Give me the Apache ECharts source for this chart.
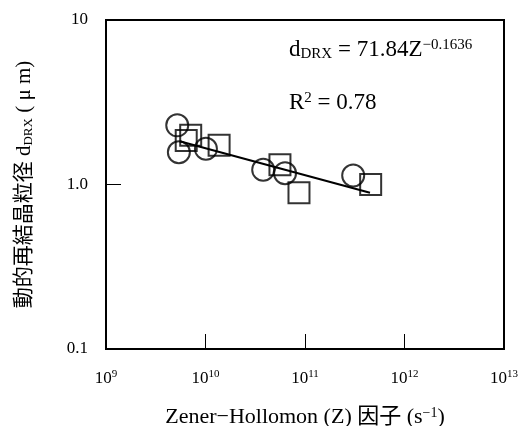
<!DOCTYPE html>
<html><head><meta charset="utf-8">
<script src="https://cdn.jsdelivr.net/npm/echarts@6/dist/echarts.min.js"></script>
<style>html,body{margin:0;padding:0;background:#fff}#c{width:529px;height:426px}</style>
</head><body><div id="c"></div>
<script>
// Data
const circleZ = [5.2e9, 5.4e9, 1.01e10, 3.8e10, 6.3e10, 3.05e11];
const circleD = [2.29, 1.57, 1.65, 1.23, 1.17, 1.135];
const squareZ = [6.4e9, 7.1e9, 1.37e10, 5.6e10, 8.7e10, 4.57e11];
const squareD = [1.85, 1.99, 1.73, 1.32, 0.89, 1.0];
const fitZ = [5.5e9, 4.5e11];
const fitD = [1.83, 0.89];
const yTickLabels = {0.1: '0.1', 1: '1.0', 10: '10'};

const serif = '"Liberation Serif","DejaVu Serif","Noto Sans CJK JP",serif';
const pairs = (xs, ys) => xs.map((x, i) => [x, ys[i]]);

const chart = echarts.init(document.getElementById('c'), null, {renderer: 'canvas'});
chart.setOption({
  animation: false,
  backgroundColor: '#fff',
  grid: {left: 106, right: 25, top: 20, bottom: 77, containLabel: false, outerBoundsMode: 'none',
         show: true, borderColor: '#000', borderWidth: 2, backgroundColor: 'transparent'},
  title: [
    {left: 284, top: 33, text: 'd{sub|DRX} = 71.84Z{sup|−0.1636}',
     textStyle: {fontFamily: serif, fontSize: 23, fontWeight: 'normal', color: '#000',
       rich: {sub: {fontFamily: serif, fontSize: 15, verticalAlign: 'bottom', padding: [9, 0, 0, 0]},
              sup: {fontFamily: serif, fontSize: 15, verticalAlign: 'top', padding: [0, 0, 9, 0]}}}},
    {left: 284, top: 86, text: 'R{sup|2} = 0.78',
     textStyle: {fontFamily: serif, fontSize: 23, fontWeight: 'normal', color: '#000',
       rich: {sup: {fontFamily: serif, fontSize: 15, verticalAlign: 'top', padding: [0, 0, 9, 0]}}}}
  ],
  xAxis: {
    type: 'log', logBase: 10, min: 1e9, max: 1e13,
    name: 'Zener−Hollomon (Z) 因子 (s{sup|−1})',
    nameLocation: 'middle', nameGap: 57,
    nameTextStyle: {fontFamily: serif, fontSize: 22, color: '#000',
      rich: {sup: {fontFamily: serif, fontSize: 14, verticalAlign: 'top', padding: [0, 0, 9, 0]}}},
    axisLine: {lineStyle: {color: '#000', width: 2}},
    axisTick: {inside: true, length: 15, lineStyle: {color: '#000', width: 1}},
    splitLine: {show: false},
    minorTick: {show: false},
    axisLabel: {margin: 20, color: '#000', fontFamily: serif, fontSize: 17,
      formatter: v => '10{sup|' + Math.round(Math.log10(v)) + '}',
      rich: {sup: {fontFamily: serif, fontSize: 11, verticalAlign: 'top', padding: [0, 0, 8, 0]}}}
  },
  yAxis: {
    type: 'log', logBase: 10, min: 0.1, max: 10,
    name: '動的再結晶粒径 d{sub|DRX} ( μ m)',
    nameLocation: 'middle', nameGap: 71, nameRotate: 90,
    nameTextStyle: {fontFamily: serif, fontSize: 21, color: '#000',
      rich: {sub: {fontFamily: serif, fontSize: 13, verticalAlign: 'bottom', padding: [9, 0, 0, 0]}}},
    axisLine: {lineStyle: {color: '#000', width: 2}},
    axisTick: {inside: true, length: 15, lineStyle: {color: '#000', width: 1}},
    splitLine: {show: false},
    axisLabel: {margin: 18, color: '#000', fontFamily: serif, fontSize: 17,
      formatter: v => { const k = Math.round(Math.log10(v)); return yTickLabels[Math.pow(10, k)] || String(v); }}
  },
  series: [
    {type: 'scatter', data: pairs(circleZ, circleD), symbol: 'circle', symbolSize: 22,
     itemStyle: {color: 'rgba(0,0,0,0)', borderColor: '#000', borderWidth: 2}},
    {type: 'scatter', data: pairs(squareZ, squareD), symbol: 'rect', symbolSize: 21,
     itemStyle: {color: 'rgba(0,0,0,0)', borderColor: '#000', borderWidth: 2}},
    {type: 'line', data: pairs(fitZ, fitD), symbol: 'none', z: 5,
     lineStyle: {color: '#000', width: 2}}
  ]
});
</script></body></html>
